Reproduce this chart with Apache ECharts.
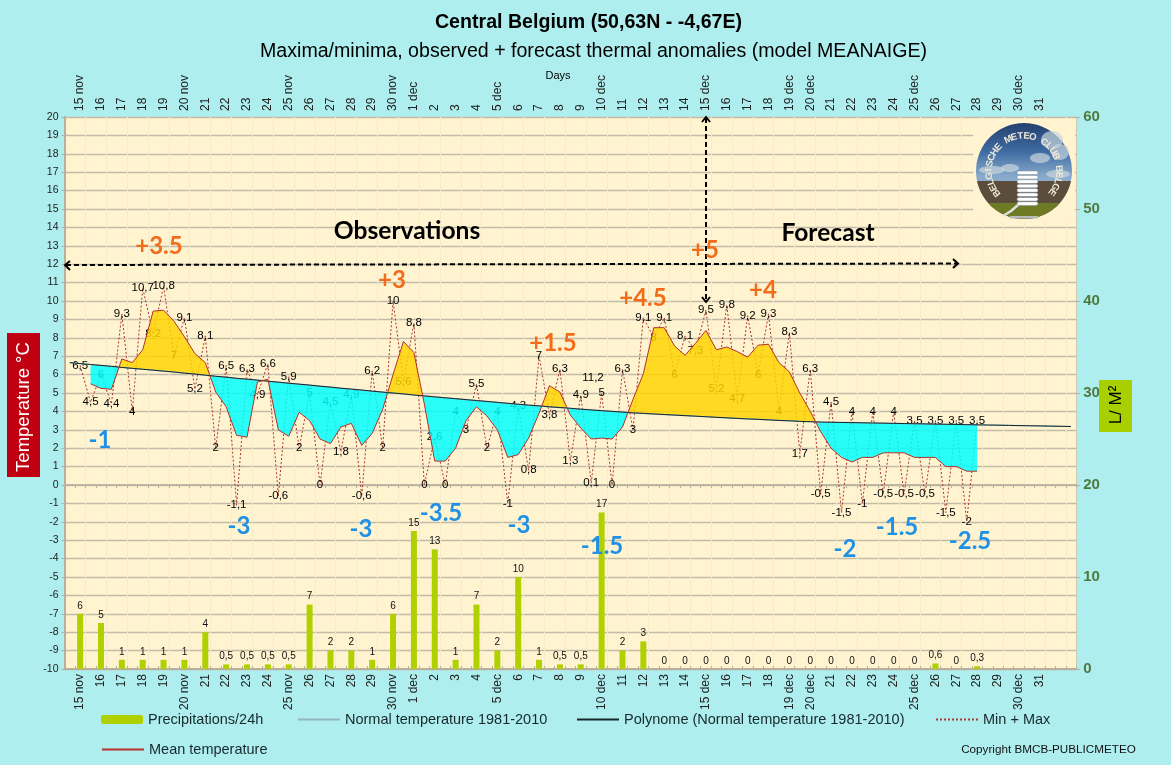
<!DOCTYPE html>
<html><head><meta charset="utf-8">
<style>html,body{margin:0;padding:0;background:#AFEEEE}#c{width:1171px;height:765px}</style>
<script src="https://cdn.jsdelivr.net/npm/echarts@6/dist/echarts.min.js"></script>
</head><body><div id="c"></div>
<script>
// One category per half day: max sits on the labelled position, min on the one after it.
const dayLabels = ['15 nov','16','17','18','19','20 nov','21','22','23','24','25 nov','26','27','28','29','30 nov','1 dec','2','3','4','5 dec','6','7','8','9','10 dec','11','12','13','14','15 dec','16','17','18','19 dec','20 dec','21','22','23','24','25 dec','26','27','28','29','30 dec','31'];
const precipitation = [6,5,1,1,1,1,4,0.5,0.5,0.5,0.5,7,2,2,1,6,15,13,1,7,2,10,1,0.5,0.5,17,2,3,0,0,0,0,0,0,0,0,0,0,0,0,0,0.6,0,0.3];
const minMax = [null,6.5,4.5,6,4.4,9.3,4,10.7,8.2,10.8,7,9.1,5.2,8.1,2,6.5,-1.1,6.3,4.9,6.6,-0.6,5.9,2,5,0,4.5,1.8,4.9,-0.6,6.2,2,10,5.6,8.8,0,2.6,0,4,3,5.5,2,4,-1,4.3,0.8,7,3.8,6.3,1.3,4.9,0.1,5,0,6.3,3,9.1,8,9.1,6,8.1,7.3,9.5,5.2,9.8,4.7,9.2,6,9.3,4,8.3,1.7,6.3,-0.5,4.5,-1.5,4,-1,4,-0.5,4,-0.5,3.5,-0.5,3.5,-1.5,3.5,-2,3.5];
const meanTemp = [null,null,5.5,5.25,5.2,6.85,6.65,7.35,9.45,9.5,8.9,8.05,7.15,6.65,5.05,4.25,2.7,2.6,5.6,5.75,3.0,2.65,3.95,3.5,2.5,2.25,3.15,3.35,2.15,2.8,4.1,6.0,7.8,7.2,4.4,1.3,1.3,2.0,3.5,4.25,3.75,3.0,1.5,1.65,2.55,3.9,5.4,5.05,3.8,3.1,2.5,2.55,2.5,3.15,4.65,6.05,8.55,8.55,7.55,7.05,7.7,8.4,7.35,7.5,7.25,6.95,7.6,7.65,6.65,6.15,5.0,4.0,2.9,2.0,1.5,1.25,1.5,1.5,1.75,1.75,1.75,1.5,1.5,1.5,1.0,1.0,0.75,0.75];
const normalTemp = [6.65,6.6,6.55,6.5,6.45,6.39,6.34,6.29,6.24,6.19,6.14,6.08,6.03,5.97,5.91,5.86,5.8,5.75,5.7,5.64,5.59,5.53,5.48,5.43,5.37,5.32,5.26,5.21,5.16,5.1,5.05,5.0,4.95,4.89,4.84,4.79,4.74,4.69,4.64,4.59,4.54,4.49,4.44,4.39,4.34,4.3,4.25,4.21,4.17,4.12,4.08,4.04,4.0,3.96,3.92,3.89,3.86,3.83,3.8,3.77,3.74,3.71,3.68,3.65,3.62,3.59,3.57,3.54,3.51,3.49,3.46,3.44,3.42,3.41,3.4,3.39,3.38,3.37,3.36,3.35,3.34,3.33,3.32,3.31,3.3,3.29,3.28,3.27,3.26,3.25,3.24,3.23,3.22,3.21,3.2,3.19,3.18];
const warmNotes = [['+3.5',159,246],['+3',392,280],['+1.5',553,343],['+4.5',643,298],['+5',705,250],['+4',763,290]];
const coldNotes = [['-1',100,440],['-3',239,526],['-3',361,529],['-3.5',441,513],['-3',519,525],['-1.5',602,546],['-2',845,549],['-1.5',897,527],['-2.5',970,541]];

const BANDS = 97;
const categories = new Array(BANDS).fill('');
const precipSeries = new Array(BANDS).fill(null);
dayLabels.forEach((d,i)=>{categories[1+2*i]=d;});
precipitation.forEach((v,i)=>{precipSeries[1+2*i]=v;});
const comma = v => String(v).replace('.',',');

function anomalyFill(params, api){
  const children=[]; let run=null, sign=0;
  const flush=()=>{ if(run){ children.push({type:'polygon',shape:{points:run.top.concat(run.bot.reverse())},
      style:{fill:sign>0?'#FFD400':'#00FFFF',opacity:0.84,stroke:null}}); run=null; } };
  const last=meanTemp.length-1;
  for(let i=2;i<=last;i++){
    const m=api.coord([i,meanTemp[i]]), n=api.coord([i,normalTemp[i]]);
    const s=meanTemp[i]>=normalTemp[i]?1:-1;
    if(run&&s!==sign){
      const d0=meanTemp[i-1]-normalTemp[i-1], d1=meanTemp[i]-normalTemp[i], t=d0/(d0-d1);
      const p0=api.coord([i-1,normalTemp[i-1]]);
      const c=[p0[0]+(n[0]-p0[0])*t,p0[1]+(n[1]-p0[1])*t];
      run.top.push(c); flush();
      run={top:[c],bot:[]};
    } else if(!run){ run={top:[],bot:[]}; }
    sign=s; run.top.push(m); run.bot.push(n);
  }
  flush();
  return {type:'group',children};
}

const graphics=[];
function T(text,x,y,font,fill,extra){graphics.push(Object.assign({type:'text',z:50,x,y,style:{text,font,fill,textAlign:'center',textVerticalAlign:'middle'}},extra||{}));}
T('Central Belgium (50,63N - -4,67E)',588.5,23,'bold 19.6px "Liberation Sans"','#000');
T('Maxima/minima, observed + forecast thermal anomalies (model MEANAIGE)',593.5,52,'19.6px "Liberation Sans"','#000');
T('Days',558,76,'11px "Liberation Sans"','#000');
T('Copyright BMCB-PUBLICMETEO',1048.5,750,'11.7px "Liberation Sans"','#111');
T('Observations',407,231,'bold 24.6px "Lato"','#000');
T('Forecast',828,233,'bold 24.6px "Lato"','#000');
warmNotes.forEach(n=>T(n[0],n[1],n[2],'bold 24px "Lato"','#F36C1A'));
coldNotes.forEach(n=>T(n[0],n[1],n[2],'bold 24px "Lato"','#1E90E6'));
T('11,2',593,378,'11.5px "Liberation Sans"','#000');
// side boxes
graphics.push({type:'rect',z:20,shape:{x:7,y:333,width:33,height:144},style:{fill:'#C00010'}});
T('Temperature °C',24,407,'18.5px "Liberation Sans"','#fff',{rotation:Math.PI/2});
graphics.push({type:'rect',z:20,shape:{x:1099,y:380,width:33,height:52},style:{fill:'#A8CF00'}});
T('L/ M²',1116,405,'17px "Liberation Sans"','#000',{rotation:Math.PI/2});
// arrows
const arrow={stroke:'#000',lineWidth:2,lineDash:[5,3]}, head={stroke:'#000',lineWidth:2,fill:null};
graphics.push({type:'line',z:40,shape:{x1:66,y1:265,x2:957,y2:263.5},style:arrow});
graphics.push({type:'polyline',z:40,shape:{points:[[70,261],[65,265],[70,270]]},style:head});
graphics.push({type:'polyline',z:40,shape:{points:[[953,259],[958,263.5],[953,268]]},style:head});
graphics.push({type:'line',z:40,shape:{x1:706,y1:118,x2:706,y2:301},style:arrow});
graphics.push({type:'polyline',z:40,shape:{points:[[702,122],[706,117],[710,122]]},style:head});
graphics.push({type:'polyline',z:40,shape:{points:[[702,297],[706,302],[710,297]]},style:head});
// logo
const cx=1024,cy=171,R=48;
graphics.push({type:'rect',z:1,shape:{x:973,y:119,width:102,height:103},style:{fill:'#FFF3D0'}});
graphics.push({type:'circle',z:30,shape:{cx,cy,r:R},style:{fill:{type:'linear',x:0,y:0,x2:0,y2:1,colorStops:[{offset:0,color:'#24406F'},{offset:0.3,color:'#3F6CA3'},{offset:0.55,color:'#86A9CB'},{offset:1,color:'#B9CBD6'}]}}});
function segment(y0,fill){const pts=[];const a0=Math.asin(Math.min(1,(y0-cy)/R));for(let k=0;k<=40;k++){const a=a0+(Math.PI-2*a0)*k/40;pts.push([cx+R*Math.cos(a),cy+R*Math.sin(a)]);}graphics.push({type:'polygon',z:31,shape:{points:pts},style:{fill}});}
[[1052,140,11,9],[1060,152,9,8],[1040,158,10,5],[992,170,13,4],[1010,168,9,4],[1058,174,12,4]].forEach(c=>graphics.push({type:'ellipse',z:31,shape:{cx:c[0],cy:c[1],rx:c[2],ry:c[3]},style:{fill:'#C9D5DC',opacity:0.7}}));
segment(181,'#5B4C3C');segment(203,'#6E7A24');
for(let k=0;k<8;k++){graphics.push({type:'rect',z:32,shape:{x:1017,y:171+k*4.4,width:21,height:3.6,r:2},style:{fill:'#FFFFFF',stroke:'#7E8894',lineWidth:0.5}});}
graphics.push({type:'polyline',z:32,shape:{points:[[1018,205],[1011,211],[1003,216]]},style:{stroke:'#E0E2E0',lineWidth:2.5,fill:null}});
graphics.push({type:'rect',z:32,shape:{x:1010,y:216,width:28,height:2.5},style:{fill:'#B8BCB8'}});
const ring='BELGISCHE METEO CLUB BELGE'.split('');
ring.forEach((ch,i)=>{const a=(-129+256*i/(ring.length-1))*Math.PI/180;graphics.push({type:'text',z:33,x:cx+35*Math.sin(a),y:cy-35*Math.cos(a),rotation:-a,style:{text:ch,font:'bold 9.5px "Liberation Sans"',fill:'#EFE9D8',textAlign:'center',textVerticalAlign:'middle'}});});

const legendBase=(name,left,top,isLine)=>({data:[name],left,top,padding:0,itemGap:0,itemWidth:42,itemHeight:9,itemStyle:isLine?{opacity:0}:{color:'#B0D000'},textStyle:{fontSize:14.5,color:'#16282c',fontFamily:'Liberation Sans'},selectedMode:false});
const xBase=(position)=>({type:'category',position,data:categories,boundaryGap:true,
  axisLine:{show:true,lineStyle:{color:'#B8B09C',width:2}},
  axisTick:{show:true,alignWithLabel:false,interval:0,length:3,lineStyle:{color:'#B8B09C'}},
  axisLabel:{interval:0,rotate:90,fontSize:12,color:'#222',fontFamily:'Liberation Sans',margin:position==='top'?6:5,hideOverlap:false}});

const option={
  animation:false,backgroundColor:'#AFEEEE',
  textStyle:{fontFamily:'Liberation Sans'},
  grid:{left:64.5,top:117,width:1011.7,height:552,backgroundColor:'#FFF3D0',show:true,borderWidth:0},
  legend:[legendBase('Precipitations/24h',101,712,false),legendBase('Normal temperature 1981-2010',297,712,true),legendBase('Polynome (Normal temperature 1981-2010)',576,712,true),legendBase('Min + Max',935,712,true),legendBase('Mean temperature',101,742,true)],
  xAxis:[
    Object.assign(xBase('bottom'),{splitLine:{show:true,interval:i=>i%2===0,lineStyle:{color:'#F6EBCB',width:1}}}),
    Object.assign(xBase('top'),{splitLine:{show:false}})
  ],
  yAxis:[
    {type:'value',min:-10,max:20,interval:1,position:'left',axisLine:{show:true,lineStyle:{color:'#B8B09C',width:2}},axisTick:{show:true,length:3,lineStyle:{color:'#B8B09C'}},axisLabel:{fontSize:10.5,color:'#222',margin:6,fontFamily:'Liberation Sans'},splitLine:{show:true,lineStyle:{color:'#C2BBA6',width:1.4}}},
    {type:'value',min:0,max:60,interval:10,position:'right',axisLine:{show:true,lineStyle:{color:'#CFC9B4',width:1}},axisTick:{show:true,length:4,lineStyle:{color:'#B8B09C'}},axisLabel:{fontSize:15,fontWeight:'bold',color:'#4F7A3E',margin:7,fontFamily:'Liberation Sans'},splitLine:{show:false}}
  ],
  series:[
    {name:'Precipitations/24h',type:'bar',yAxisIndex:1,data:precipSeries,barWidth:6,z:3,itemStyle:{color:'#B0D000'},
      label:{show:true,position:'top',distance:3,fontSize:10,color:'#111',formatter:p=>comma(p.value)},legendHoverLink:false},
    {name:'Min + Max',type:'line',data:minMax,z:4,symbol:'circle',symbolSize:1,itemStyle:{color:'rgba(0,0,0,0)'},lineStyle:{color:'#A8382F',width:1,type:[2,2]},
      label:{show:true,position:'inside',fontSize:11.5,color:'#000',formatter:p=>comma(p.value)}},
    {name:'Anomaly',type:'custom',coordinateSystem:'cartesian2d',z:5,silent:true,data:[[2,5.5]],renderItem:anomalyFill},
    {name:'Normal temperature 1981-2010',type:'line',data:normalTemp,z:6,symbol:'none',lineStyle:{color:'#8FB5C4',width:1.2}},
    {name:'Polynome (Normal temperature 1981-2010)',type:'line',data:normalTemp,z:7,symbol:'none',lineStyle:{color:'#14282C',width:1},
      markLine:{silent:true,symbol:'none',label:{show:false},lineStyle:{color:'#BDB6A0',width:2.2,type:'solid'},z:1,data:[{yAxis:0}]}},
    {name:'Mean temperature',type:'line',data:meanTemp,z:8,symbol:'none',lineStyle:{color:'#B5302A',width:1}}
  ],
  graphic:{elements:graphics}
};
const chart=echarts.init(document.getElementById('c'),null,{renderer:'canvas'});
chart.setOption(option);
</script></body></html>
